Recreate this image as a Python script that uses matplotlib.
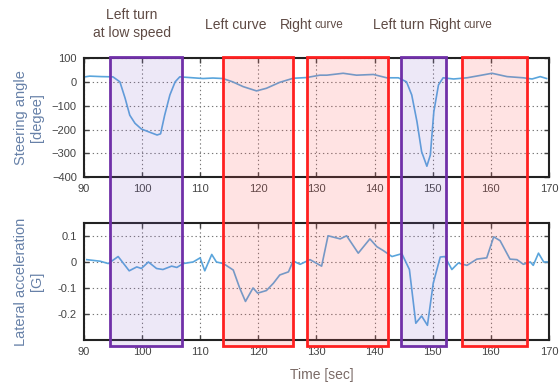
import numpy as np
import matplotlib
matplotlib.use('Agg')
import matplotlib.pyplot as plt
from matplotlib.patches import Rectangle
from matplotlib.transforms import blended_transform_factory

plt.rcParams['font.family'] = ['Liberation Sans', 'DejaVu Sans']

# steering angle [deg] vs time [s]
t_steer = [90.2, 91, 93, 95, 96.2, 97.1, 97.9, 98.8, 99.9, 101.4, 102.6, 103.2, 103.9, 104.8,
           105.7, 106.5, 108.2, 110.5, 112.2, 113.9, 115.6, 117.4, 119.7, 121.4, 123.7, 126,
           128.3, 130.6, 131.8, 134.6, 136.9, 139.8, 142.1, 144.1, 145.5, 146.4, 147.3, 148.1,
           149, 149.6, 150.2, 151, 151.8, 153.6, 155.9, 158.2, 160.2, 162.8, 165.6, 167.1,
           168.5, 169.6]
steer = [21, 24, 22, 21, 0, -69, -140, -174, -198, -212, -223, -218, -140, -55,
         0, 21, 18, 14, 16, 14, 0, -20, -38, -27, -2, 15,
         18, 28, 28, 36, 28, 31, 17, 17, 0, -55, -167, -293,
         -354, -307, -125, -13, 17, 12, 17, 27, 36, 22, 17, 12,
         22, 14]

# lateral acceleration [G] vs time [s]
t_acc = [90.5, 92.8, 94.2, 95.9, 97.8, 99.1, 99.9, 101.1, 102.5, 103.6, 105.1, 106, 107.1,
         108.8, 110, 110.8, 112, 112.8, 114, 115.7, 116.8, 117.8, 119.1, 119.9, 121.4, 122.6,
         123.7, 125.2, 126, 127.2, 128.9, 130.9, 132, 134.1, 135.2, 137.2, 139.2, 140.4,
         141.5, 143, 144.7, 146, 147.1, 148.1, 149.1, 150.1, 151.3, 152.1, 153.3, 154.4,
         155.9, 157.6, 159.3, 160.5, 161.6, 163.3, 164.5, 165.6, 166.8, 167.3, 168.2, 169.1,
         169.9]
acc = [0.009, 0.003, -0.006, 0.021, -0.034, -0.019, -0.025, 0, -0.025, -0.029, -0.016, -0.021, -0.006,
       0, 0.016, -0.034, 0.029, 0, -0.006, -0.031, -0.1, -0.152, -0.1, -0.12, -0.11, -0.082,
       -0.05, -0.038, 0.004, -0.009, 0.009, -0.016, 0.101, 0.089, 0.101, 0.034, 0.089, 0.059,
       0.044, 0.021, 0.032, -0.029, -0.236, -0.208, -0.244, -0.082, 0.019, 0.021, -0.029, -0.004,
       -0.013, 0.011, 0.016, 0.097, 0.082, 0.011, 0.009, -0.009, 0, -0.013, 0.034, 0,
       0]

# maneuver windows (start, end, kind)
win_start = [94.5, 113.9, 128.4, 144.6, 155.1]
win_end = [106.9, 126.0, 142.4, 152.3, 166.2]
win_kind = ['turn', 'curve', 'curve', 'turn', 'curve']

line_col = '#5aa5dc'
txt_col = '#5e4a44'
lab_col = '#6781a8'

fig = plt.figure(figsize=(5.59, 3.92), dpi=100, facecolor='white')
ax1 = fig.add_axes([0.150, 0.548, 0.832, 0.304])
ax2 = fig.add_axes([0.150, 0.133, 0.832, 0.298])

ax1.plot(t_steer, steer, color=line_col, lw=1.2)
ax2.plot(t_acc, acc, color=line_col, lw=1.2)

ax1.set_ylim(-400, 100)
ax1.set_yticks([-400, -300, -200, -100, 0, 100])
ax2.set_ylim(-0.3, 0.15)
ax2.set_yticks([-0.2, -0.1, 0, 0.1])
ax2.set_yticklabels(['-0.2', '-0.1', '0', '0.1'])

for ax in (ax1, ax2):
    ax.set_xlim(90, 170)
    ax.set_xticks(range(90, 171, 10))
    ax.grid(True, linestyle=(0, (1.2, 2.5)), color='#777777', lw=0.8)
    ax.tick_params(direction='in', top=True, right=True, length=3.5, width=1,
                   labelsize=8, colors='#444444', pad=5)
    for s in ax.spines.values():
        s.set_linewidth(1.5)
        s.set_color('#222222')

ax1.set_ylabel('Steering angle\n[degee]', color=lab_col, fontsize=10.5)
ax2.set_ylabel('Lateral acceleration\n[G]', color=lab_col, fontsize=10.5)
ax1.yaxis.set_label_coords(-0.085, 0.5)
ax2.yaxis.set_label_coords(-0.085, 0.5)
fig.text(0.576, 0.043, 'Time [sec]', color='#7a6a66', fontsize=10, ha='center', va='center')

# boxes spanning both panels
tr = blended_transform_factory(ax2.transData, fig.transFigure)
for x0, x1, kind in zip(win_start, win_end, win_kind):
    if kind == 'turn':
        fc = (0.55, 0.4, 0.8, 0.15)
        ec = '#7030a8'
    else:
        fc = (1.0, 0.35, 0.35, 0.17)
        ec = '#ff2020'
    r = Rectangle((x0, 0.117), x1 - x0, 0.738, transform=tr, facecolor=fc,
                  edgecolor=ec, lw=2, zorder=10)
    fig.add_artist(r)

# headings
fig.text(0.236, 0.962, 'Left turn', color=txt_col, fontsize=10, ha='center', va='center')
fig.text(0.236, 0.916, 'at low speed', color=txt_col, fontsize=10, ha='center', va='center')
fig.text(0.422, 0.937, 'Left curve', color=txt_col, fontsize=10, ha='center', va='center')
fig.text(0.558, 0.937, 'Right', color=txt_col, fontsize=10, ha='right', va='center')
fig.text(0.562, 0.935, 'curve', color=txt_col, fontsize=8.5, ha='left', va='center')
fig.text(0.714, 0.937, 'Left turn', color=txt_col, fontsize=10, ha='center', va='center')
fig.text(0.825, 0.937, 'Right', color=txt_col, fontsize=10, ha='right', va='center')
fig.text(0.829, 0.935, 'curve', color=txt_col, fontsize=8.5, ha='left', va='center')

fig.savefig('out.png', dpi=100)
